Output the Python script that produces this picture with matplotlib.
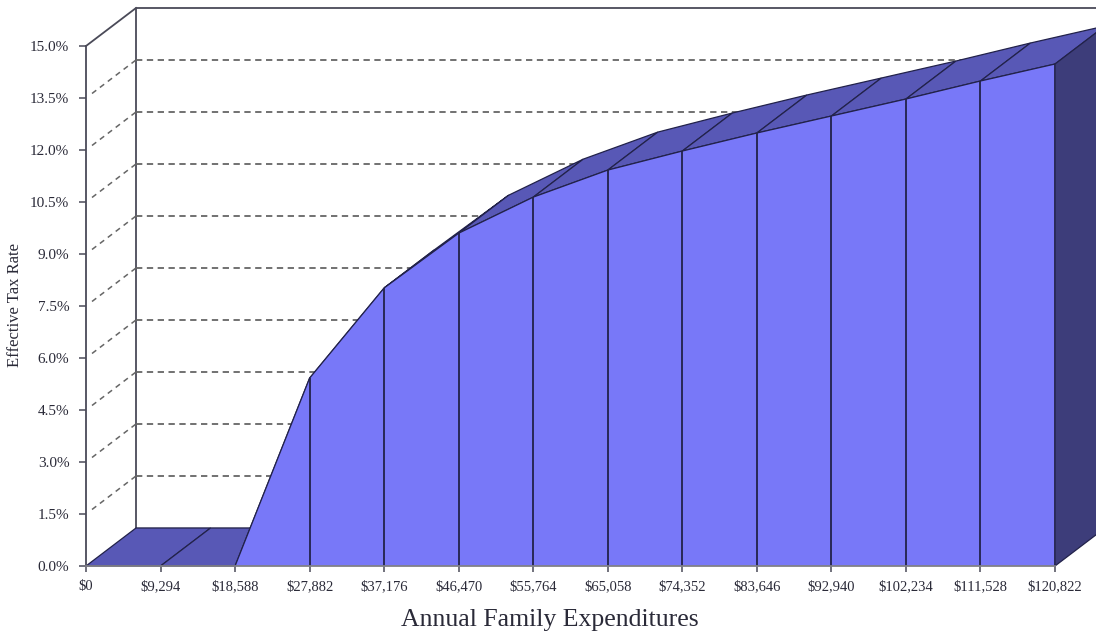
import matplotlib
matplotlib.use("Agg")
import matplotlib.pyplot as plt
import matplotlib.transforms as mtransforms
from matplotlib.patches import Polygon

# data
expenditures = [0, 9294, 18588, 27882, 37176, 46470, 55764, 65058,
                74352, 83646, 92940, 102234, 111528, 120822]
tax_rate = [0.0, 0.0, 0.0, 5.42, 8.02, 9.60, 10.64, 11.42,
            11.97, 12.49, 12.98, 13.47, 13.99, 14.48]
x_labels = ["$0", "$9,294", "$18,588", "$27,882", "$37,176", "$46,470", "$55,764",
            "$65,058", "$74,352", "$83,646", "$92,940", "$102,234", "$111,528", "$120,822"]
y_ticks = [0.0, 1.5, 3.0, 4.5, 6.0, 7.5, 9.0, 10.5, 12.0, 13.5, 15.0]

FRONT = "#7878F8"
TOP = "#5858B6"
SIDE = "#3D3D7A"
EDGE = "#22224A"
WALL = "#4A4A58"
GRID = "#666666"
TEXT = "#2A2A38"
SERIF = "Liberation Serif"

fig = plt.figure(figsize=(10.96, 6.34), dpi=100)
ax = fig.add_axes([86 / 1096, 68 / 634, 969 / 1096, 520 / 634])
ax.set_xlim(expenditures[0], expenditures[-1])
ax.set_ylim(0, 15)

# depth of the 3d box, in pixels
back = mtransforms.offset_copy(ax.transData, fig=fig, x=50, y=38, units="dots")
ident = mtransforms.IdentityTransform()


def fpt(x, y):
    return ax.transData.transform((x, y))


def bpt(x, y):
    return back.transform((x, y))


xmin, xmax = expenditures[0], expenditures[-1]

# back wall and left wall
ax.plot([xmin, xmin, xmax * 1.1], [0, 15, 15], color=WALL, lw=1.3,
        transform=back, clip_on=False, zorder=1)
ax.plot([xmin, xmax], [0, 0], color=WALL, lw=1.0, transform=back, clip_on=False, zorder=1)
for v in y_ticks[1:-1]:
    ax.plot([xmin, xmax * 1.1], [v, v], color=GRID, lw=1.3, ls=(0, (3.5, 2.5)),
            transform=back, clip_on=False, zorder=1)
    p0, p1 = fpt(xmin, v), bpt(xmin, v)
    ax.plot([p0[0] + 6, p1[0]], [p0[1] + 4.5, p1[1]], color=GRID, lw=1.1,
            ls=(0, (3.5, 3)), transform=ident, clip_on=False, zorder=1)
p0, p1 = fpt(xmin, 15), bpt(xmin, 15)
ax.plot([p0[0], p1[0]], [p0[1], p1[1]], color=WALL, lw=1.3, transform=ident,
        clip_on=False, zorder=1)

# top faces of the area
for i in range(len(expenditures) - 1):
    x0, x1 = expenditures[i], expenditures[i + 1]
    y0, y1 = tax_rate[i], tax_rate[i + 1]
    pts = [fpt(x0, y0), fpt(x1, y1), bpt(x1, y1), bpt(x0, y0)]
    ax.add_patch(Polygon(pts, closed=True, facecolor=TOP, edgecolor=EDGE, lw=0.9,
                         transform=ident, clip_on=False, zorder=2))

# right side face
pts = [fpt(xmax, 0), fpt(xmax, tax_rate[-1]), bpt(xmax, tax_rate[-1]), bpt(xmax, 0)]
ax.add_patch(Polygon(pts, closed=True, facecolor=SIDE, edgecolor=EDGE, lw=0.9,
                     transform=ident, clip_on=False, zorder=2))

# front face
ax.fill_between(expenditures, tax_rate, 0, facecolor=FRONT, edgecolor="none", zorder=3)
ax.plot(expenditures, tax_rate, color=EDGE, lw=0.9, zorder=4)
ax.vlines(expenditures[1:], 0, tax_rate[1:], color=EDGE, lw=1.3, zorder=4)

# axes styling
for s in ["top", "right"]:
    ax.spines[s].set_visible(False)
ax.spines["left"].set_color(WALL)
ax.spines["left"].set_linewidth(1.3)
ax.spines["bottom"].set_color("#808088")
ax.spines["bottom"].set_linewidth(1.3)
ax.spines["bottom"].set_zorder(5)

ax.set_xticks(expenditures, x_labels)
ax.set_yticks(y_ticks, [f"{v:.1f}%" for v in y_ticks])
ax.tick_params(axis="x", length=4, width=1.1, color=WALL, pad=6,
               labelsize=10.5, labelcolor=TEXT)
ax.tick_params(axis="y", length=5, width=1.1, color=WALL, pad=7,
               labelsize=11, labelcolor=TEXT)
for lab in ax.get_xticklabels() + ax.get_yticklabels():
    lab.set_family(SERIF)

fig.text(15 / 1096, 1 - 305 / 634, "Effective Tax Rate", rotation=90, ha="center",
         va="center", fontsize=12, family=SERIF, color=TEXT)
fig.text(550 / 1096, 1 - 620 / 634, "Annual Family Expenditures", ha="center",
         va="center", fontsize=18.5, family=SERIF, color=TEXT)

fig.savefig("out.png", dpi=100)
